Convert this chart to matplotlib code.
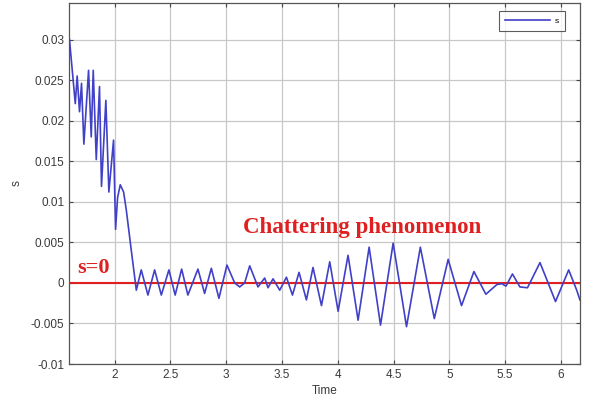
import numpy as np
import matplotlib
matplotlib.use('Agg')
import matplotlib.pyplot as plt

# sliding surface s
t = [1.596, 1.648, 1.665, 1.686, 1.704, 1.725, 1.767, 1.791, 1.809, 1.836,
     1.865, 1.883, 1.922, 1.949, 1.991, 2.009, 2.027, 2.051, 2.081, 2.105,
     2.150, 2.195,
     2.239, 2.299, 2.359, 2.419, 2.487, 2.543, 2.601, 2.657, 2.747, 2.807,
     2.867, 2.935, 3.007, 3.076, 3.121, 3.166, 3.211, 3.285, 3.345, 3.375,
     3.420, 3.480, 3.540, 3.594, 3.653, 3.719, 3.778, 3.854, 3.928, 4.003,
     4.092, 4.182, 4.281, 4.383, 4.496, 4.616, 4.740, 4.865, 4.989, 5.109,
     5.220, 5.327, 5.426, 5.471, 5.507, 5.565, 5.632, 5.700, 5.812, 5.951,
     6.069, 6.141, 6.170]
s = [0.0300, 0.0221, 0.0255, 0.0211, 0.0246, 0.0171, 0.0262, 0.0180, 0.0262, 0.0152,
     0.0242, 0.0119, 0.0225, 0.0112, 0.0176, 0.0066, 0.0105, 0.0121, 0.0112, 0.0090,
     0.0040, -0.0009,
     0.0016, -0.0015, 0.0016, -0.0015, 0.0016, -0.0015, 0.0017, -0.0015, 0.0017, -0.0013,
     0.0018, -0.0019, 0.0022, 0.0000, -0.0005, 0.0000, 0.0021, -0.0005, 0.0006, -0.0006,
     0.0005, -0.0009, 0.0007, -0.0015, 0.0013, -0.0021, 0.0019, -0.0028, 0.0026, -0.0035,
     0.0034, -0.0046, 0.0044, -0.0052, 0.0049, -0.0054, 0.0044, -0.0044, 0.0029, -0.0028,
     0.0014, -0.0014, -0.0002, -0.0001, -0.0004, 0.0011, -0.0005, -0.0006, 0.0025, -0.0023,
     0.0016, -0.0009, -0.0021]

xticks = [2, 2.5, 3, 3.5, 4, 4.5, 5, 5.5, 6]
xticklabels = ['2', '2.5', '3', '3.5', '4', '4.5', '5', '5.5', '6']
yticks = [-0.01, -0.005, 0, 0.005, 0.01, 0.015, 0.02, 0.025, 0.03]
yticklabels = ['-0.01', '-0.005', '0', '0.005', '0.01', '0.015', '0.02', '0.025', '0.03']

plt.rcParams['font.family'] = ['Liberation Sans', 'DejaVu Sans']

fig = plt.figure(figsize=(5.93, 4.05), dpi=100)
ax = fig.add_axes([0.1164, 0.1012, 0.8616, 0.8914])

ax.axhline(0, color='#e02020', lw=1.5, zorder=2)
ax.plot(t, s, color='#4040c8', lw=1.2, label='s', zorder=3)

ax.set_xlim(1.592, 6.17)
ax.set_ylim(-0.01, 0.0345)
ax.set_xticks(xticks)
ax.set_xticklabels(xticklabels)
ax.set_yticks(yticks)
ax.set_yticklabels(yticklabels)
ax.grid(True, color='#c8c8c8', lw=0.9)
ax.set_axisbelow(True)
ax.tick_params(direction='in', length=3, width=0.8, top=True, right=True,
               labelsize=8.5, labelcolor='#3a3a3a', color='#444444')
for sp in ax.spines.values():
    sp.set_color('#555555')
    sp.set_linewidth(0.9)

ax.set_xlabel('Time', fontsize=8.5, color='#3a3a3a', labelpad=3)
ax.set_ylabel('s', fontsize=8.5, color='#3a3a3a', labelpad=6)

ax.text(1.668, 0.0012, 's=0', color='#e02020', fontsize=16, fontweight='bold',
        family='Liberation Serif', va='baseline')
ax.text(3.148, 0.0062, 'Chattering phenomenon', color='#e02020', fontsize=16.5,
        fontweight='bold', family='Liberation Serif', va='baseline')

leg = ax.legend(loc='upper right', fontsize=6, frameon=True, fancybox=False,
                handlelength=5.5, borderpad=0.7, handletextpad=0.5,
                bbox_to_anchor=(0.978, 0.988))
leg.get_frame().set_edgecolor('#333333')
leg.get_frame().set_linewidth(0.8)

fig.savefig('out.png', dpi=100)
